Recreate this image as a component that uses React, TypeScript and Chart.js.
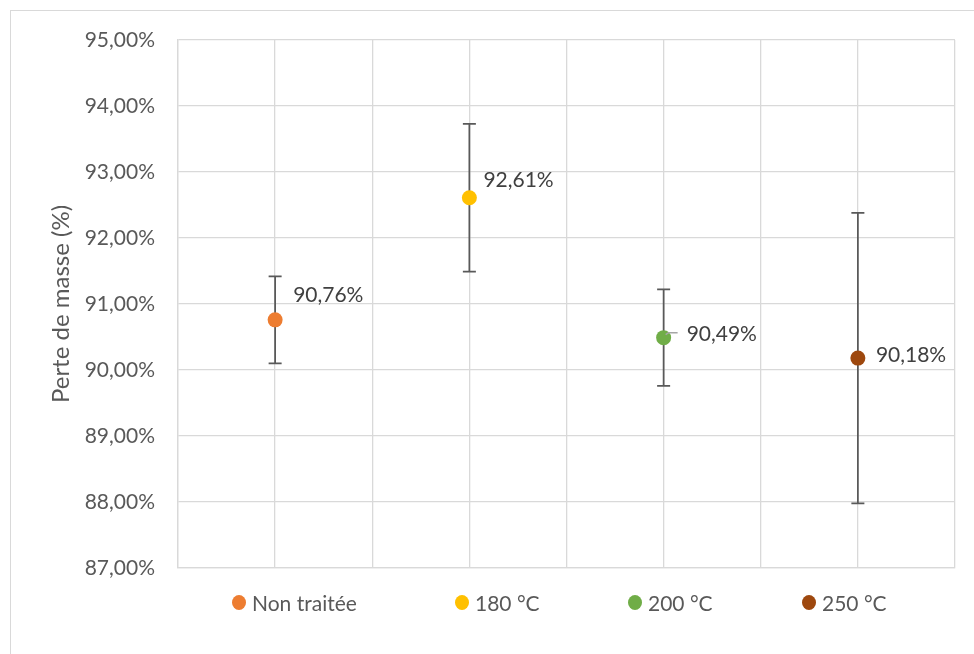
import React, { useEffect, useRef } from "react";
import { Chart, registerables } from "chart.js";

Chart.register(...registerables);

const categories = ["Non traitée", "180 °C", "200 °C", "250 °C"];
const xPositions = [1, 3, 5, 7];
const values = [90.76, 92.61, 90.49, 90.18];
const errors = [0.66, 1.12, 0.73, 2.2];
const colors = ["#ED7D31", "#FFC000", "#70AD47", "#9E480E"];
const yTicks = [87, 88, 89, 90, 91, 92, 93, 94, 95];
const labelOffsets = [
  [18, -25],
  [14, -18],
  [23, -3],
  [18, -3],
];
const legendSlotWidths = [223, 173, 174, 120];

const FONT = "Lato, 'Open Sans', sans-serif";
const fmt = (v: number) => v.toFixed(2).replace(".", ",") + "%";

const errorBarPlugin = {
  id: "errorBars",
  afterDatasetsDraw(chart: any) {
    const ctx = chart.ctx;
    const yScale = chart.scales.y;
    ctx.save();
    chart.data.datasets.forEach((ds: any, i: number) => {
      const meta = chart.getDatasetMeta(i);
      meta.data.forEach((pt: any, j: number) => {
        const v = ds.data[j].y;
        const e = ds.errors[j];
        const x = pt.x;
        const yTop = yScale.getPixelForValue(v + e);
        const yBot = yScale.getPixelForValue(v - e);
        ctx.strokeStyle = "#595959";
        ctx.lineWidth = 1.75;
        ctx.beginPath();
        ctx.moveTo(x, yTop);
        ctx.lineTo(x, yBot);
        ctx.moveTo(x - 6.5, yTop);
        ctx.lineTo(x + 6.5, yTop);
        ctx.moveTo(x - 6.5, yBot);
        ctx.lineTo(x + 6.5, yBot);
        ctx.stroke();
      });
    });
    ctx.restore();
  },
};

const pointsOnTopPlugin = {
  id: "pointsOnTop",
  afterDatasetsDraw(chart: any) {
    const ctx = chart.ctx;
    ctx.save();
    chart.data.datasets.forEach((ds: any, i: number) => {
      const meta = chart.getDatasetMeta(i);
      meta.data.forEach((pt: any) => {
        ctx.fillStyle = ds.backgroundColor;
        ctx.beginPath();
        ctx.arc(pt.x, pt.y, 7.5, 0, Math.PI * 2);
        ctx.fill();
      });
    });
    ctx.font = `21px ${FONT}`;
    ctx.fillStyle = "#404040";
    ctx.textAlign = "left";
    ctx.textBaseline = "middle";
    chart.data.datasets.forEach((ds: any, i: number) => {
      const meta = chart.getDatasetMeta(i);
      meta.data.forEach((pt: any, j: number) => {
        const [dx, dy] = labelOffsets[i];
        ctx.fillText(fmt(ds.data[j].y), pt.x + dx, pt.y + dy);
        if (i === 2) {
          ctx.strokeStyle = "#A6A6A6";
          ctx.lineWidth = 1.5;
          ctx.beginPath();
          ctx.moveTo(pt.x + 2, pt.y - 3);
          ctx.lineTo(pt.x + 5, pt.y - 5);
          ctx.lineTo(pt.x + 14, pt.y - 5);
          ctx.stroke();
        }
      });
    });
    ctx.restore();
  },
};

export default function App() {
  const canvasRef = useRef<HTMLCanvasElement | null>(null);

  useEffect(() => {
    if (!canvasRef.current) return;
    const chart = new Chart(canvasRef.current, {
      type: "scatter",
      data: {
        datasets: categories.map((c, i) => ({
          label: c,
          data: [{ x: xPositions[i], y: values[i] }],
          errors: [errors[i]],
          backgroundColor: colors[i],
          borderColor: colors[i],
          pointRadius: 0,
          pointHoverRadius: 0,
        })) as any,
      },
      options: {
        responsive: false,
        animation: false,
        devicePixelRatio: 1,
        layout: { padding: { top: 40, bottom: 86, right: 19, left: 0 } },
        plugins: {
          legend: { display: false },
          tooltip: { enabled: false },
        },
        scales: {
          x: {
            type: "linear",
            min: 0,
            max: 8,
            ticks: { display: false, stepSize: 1 },
            grid: { color: "#D9D9D9", lineWidth: 1.3, drawTicks: false },
            border: { color: "#D9D9D9", width: 1.3 },
            afterFit: (s: any) => {
              s.height = 0;
            },
          },
          y: {
            min: 87,
            max: 95,
            afterBuildTicks: (s: any) => {
              s.ticks = yTicks.map((v) => ({ value: v }));
            },
            ticks: {
              padding: 23,
              color: "#595959",
              font: { family: FONT, size: 21 },
              callback: (v: any) => fmt(Number(v)),
            },
            grid: { color: "#D9D9D9", lineWidth: 1.3, drawTicks: false },
            border: { color: "#D9D9D9", width: 1.3 },
            title: {
              display: true,
              text: "Perte de masse (%)",
              color: "#595959",
              font: { family: FONT, size: 24 },
              padding: { top: 47, bottom: 0 },
            },
            afterFit: (s: any) => {
              s.width = 178;
            },
          },
        },
      },
      plugins: [errorBarPlugin, pointsOnTopPlugin],
    });
    return () => chart.destroy();
  }, []);

  return (
    <div
      style={{
        position: "absolute",
        left: 0,
        top: 0,
        width: 974,
        height: 654,
        overflow: "hidden",
        background: "#fff",
      }}
    >
      <div
        style={{
          position: "absolute",
          left: 10,
          top: 10,
          width: 964,
          height: 644,
          borderTop: "1.5px solid #D9D9D9",
          borderLeft: "1.5px solid #D9D9D9",
          boxSizing: "border-box",
        }}
      />
      <canvas
        ref={canvasRef}
        width={974}
        height={654}
        style={{ position: "absolute", left: 0, top: 0, width: 974, height: 654 }}
      />
      <div
        style={{
          position: "absolute",
          left: 232,
          top: 590,
          display: "flex",
          alignItems: "center",
          fontFamily: FONT,
          fontSize: 21,
          color: "#595959",
          whiteSpace: "nowrap",
        }}
      >
        {categories.map((c, i) => (
          <div
            key={c}
            style={{ display: "flex", alignItems: "center", width: legendSlotWidths[i] }}
          >
            <span
              style={{
                display: "inline-block",
                width: 14,
                height: 15,
                borderRadius: "50%",
                background: colors[i],
                marginRight: 6,
              }}
            />
            <span>{c}</span>
          </div>
        ))}
      </div>
    </div>
  );
}
